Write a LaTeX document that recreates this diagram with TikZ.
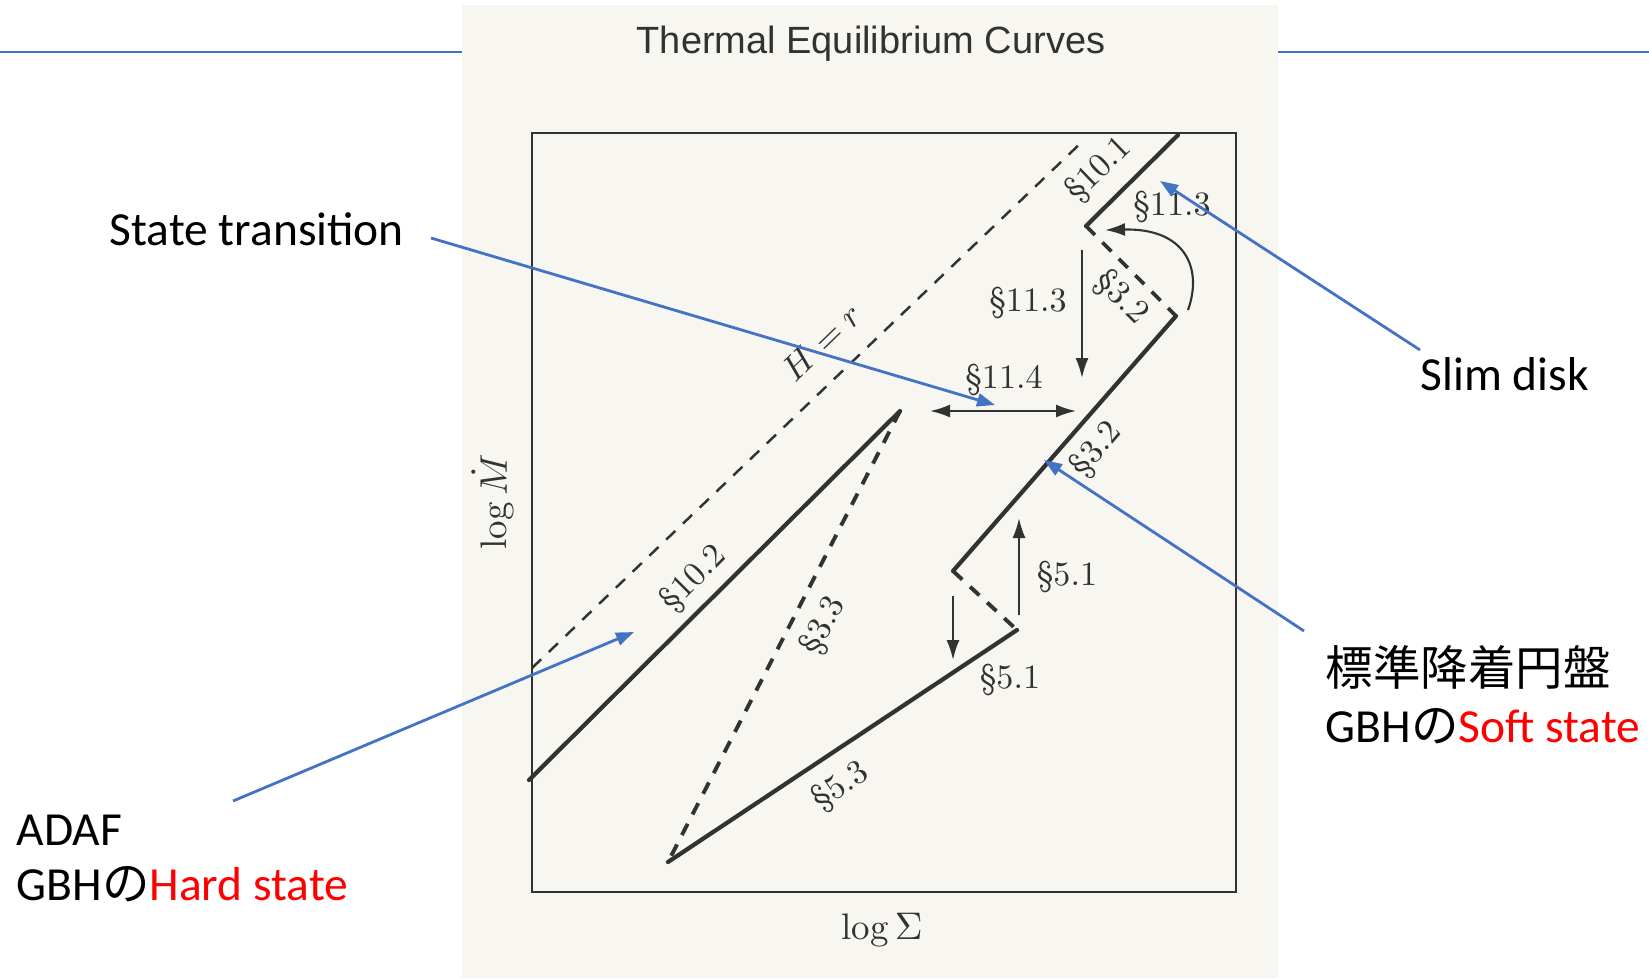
\documentclass[tikz,border=0pt]{standalone}
\usepackage{fontspec}
\newfontfamily\calibri{Carlito}
\newfontfamily\jpfont{Noto Sans CJK JP}
\newfontfamily\titlefont{Liberation Sans}
\usetikzlibrary{arrows.meta,positioning,calc}
\definecolor{PaperTone}{RGB}{247,246,240}
\definecolor{InkGray}{RGB}{50,50,50}
\definecolor{CallBlue}{RGB}{68,114,196}
\definecolor{LabelRed}{RGB}{255,0,0}

\begin{document}
\begin{tikzpicture}[
    x=0.01cm, y=-0.01cm,
    curve/.style={draw=InkGray, line width=1.2pt, line cap=round},
    dashcurve/.style={draw=InkGray, line width=1.1pt, dash pattern=on 3.6pt off 3pt},
    guide/.style={draw=InkGray, line width=0.7pt, dash pattern=on 3.6pt off 3pt},
    shiftarrow/.style={draw=InkGray, line width=0.6pt, -{Latex[length=2mm,width=1.3mm]}},
    sec/.style={font=\fontsize{9.7}{11}\selectfont, text=InkGray, inner sep=0.5pt},
    axislabel/.style={font=\fontsize{10.5}{12}\selectfont, text=InkGray, inner sep=1pt},
    note/.style={font=\calibri\fontsize{13.5}{16}\selectfont, anchor=base west, inner sep=0pt},
    callout/.style={draw=CallBlue, line width=0.8pt, -{Triangle[length=1.8mm,width=1.3mm]}}
  ]
    \useasboundingbox (0,0) rectangle (1649,978);
    % slide rules and scanned page
    \draw[CallBlue, line width=0.7pt] (0,52) -- (462,52);
    \draw[CallBlue, line width=0.7pt] (1278,52) -- (1649,52);
    \fill[PaperTone] (462,5) rectangle (1278,978);

    \node[font=\titlefont\fontsize{10.8}{13}\selectfont, text=InkGray] (title) at (871,44) {Thermal Equilibrium Curves};
    \draw[InkGray, line width=0.8pt] (532,133) rectangle (1236,892);
    \node[axislabel, rotate=90] (ylab) at (493,502) {$\log\dot M$};
    \node[axislabel] (xlab) at (882,930) {$\log\Sigma$};

    % branch end points
    \coordinate (hr0) at (532,668);
    \coordinate (hr1) at (1085,139);
    \coordinate (slim0) at (1086,226);
    \coordinate (slim1) at (1178,135);
    \coordinate (std0) at (953,571);
    \coordinate (std1) at (1176,316);
    \coordinate (adaf0) at (529,780);
    \coordinate (adaf1) at (900,411);
    \coordinate (low0) at (668,862);
    \coordinate (low1) at (1017,630);

    \draw[guide] (hr0) -- (hr1);
    \draw[curve] (slim0) -- (slim1);
    \draw[curve] (std0) -- (std1);
    \draw[curve] (adaf0) -- (adaf1);
    \draw[curve] (low0) -- (low1);
    \draw[dashcurve] (slim0) -- (std1);
    \draw[dashcurve] (adaf1) -- (low0);
    \draw[dashcurve] (std0) -- (low1);

    % transitions
    \coordinate (drop0) at (1082,250);
    \coordinate (drop1) at (1082,378);
    \coordinate (jumpL) at (930,411);
    \coordinate (jumpR) at (1076,411);
    \coordinate (fall0) at (953,596);
    \coordinate (fall1) at (953,660);
    \coordinate (rise0) at (1019,615);
    \coordinate (rise1) at (1019,518);
    \coordinate (loop0) at (1188,310);
    \coordinate (loop1) at (1105,230);
    \draw[shiftarrow] (drop0) -- (drop1);
    \draw[shiftarrow, {Latex[length=2mm,width=1.3mm]}-{Latex[length=2mm,width=1.3mm]}] (jumpL) -- (jumpR);
    \draw[shiftarrow] (fall0) -- (fall1);
    \draw[shiftarrow] (rise0) -- (rise1);
    \draw[shiftarrow] (loop0) .. controls (1203,268) and (1185,228) .. (loop1);

    % section labels
    \node[sec, rotate=44] (s101) at (1099,170) {\S10.1};
    \node[sec] (s113a) at (1172,207) {\S11.3};
    \node[sec, rotate=-45] (s32a) at (1121,298) {\S3.2};
    \node[sec] (s113b) at (1028,303) {\S11.3};
    \node[sec] (s114) at (1004,380) {\S11.4};
    \node[sec, rotate=49] (s32b) at (1097,450) {\S3.2};
    \node[sec] (s51a) at (1067,577) {\S5.1};
    \node[sec] (s51b) at (1010,680) {\S5.1};
    \node[sec, rotate=34] (s53) at (841,787) {\S5.3};
    \node[sec, rotate=63] (s33) at (824,626) {\S3.3};
    \node[sec, rotate=45] (s102) at (694,579) {\S10.2};
    \node[sec, rotate=44] (hrlab) at (822,342) {$H=r$};

    % annotations
    \node[note] (trans) at (109,245) {State transition};
    \node[note] (slim) at (1420,390) {Slim disk};
    \node[note] (stdjp) at (1325,685) {\jpfont 標準降着円盤};
    \node[note] (soft) at (1325,742) {GBH{\jpfont の}\textcolor{LabelRed}{Soft state}};
    \node[note] (adaf) at (16,845) {ADAF};
    \node[note] (hard) at (16,900) {GBH{\jpfont の}\textcolor{LabelRed}{Hard state}};

    \coordinate (transtail) at (431,238);
    \coordinate (transtip) at (995,405);
    \coordinate (slimtail) at (1420,350);
    \coordinate (slimtip) at (1160,181);
    \coordinate (stdtail) at (1304,631);
    \coordinate (stdtip) at (1044,460);
    \coordinate (adaftail) at (233,801);
    \coordinate (adaftip) at (634,632);
    \draw[callout] (transtail) -- (transtip);
    \draw[callout] (slimtail) -- (slimtip);
    \draw[callout] (stdtail) -- (stdtip);
    \draw[callout] (adaftail) -- (adaftip);
  \end{tikzpicture}
\end{document}
